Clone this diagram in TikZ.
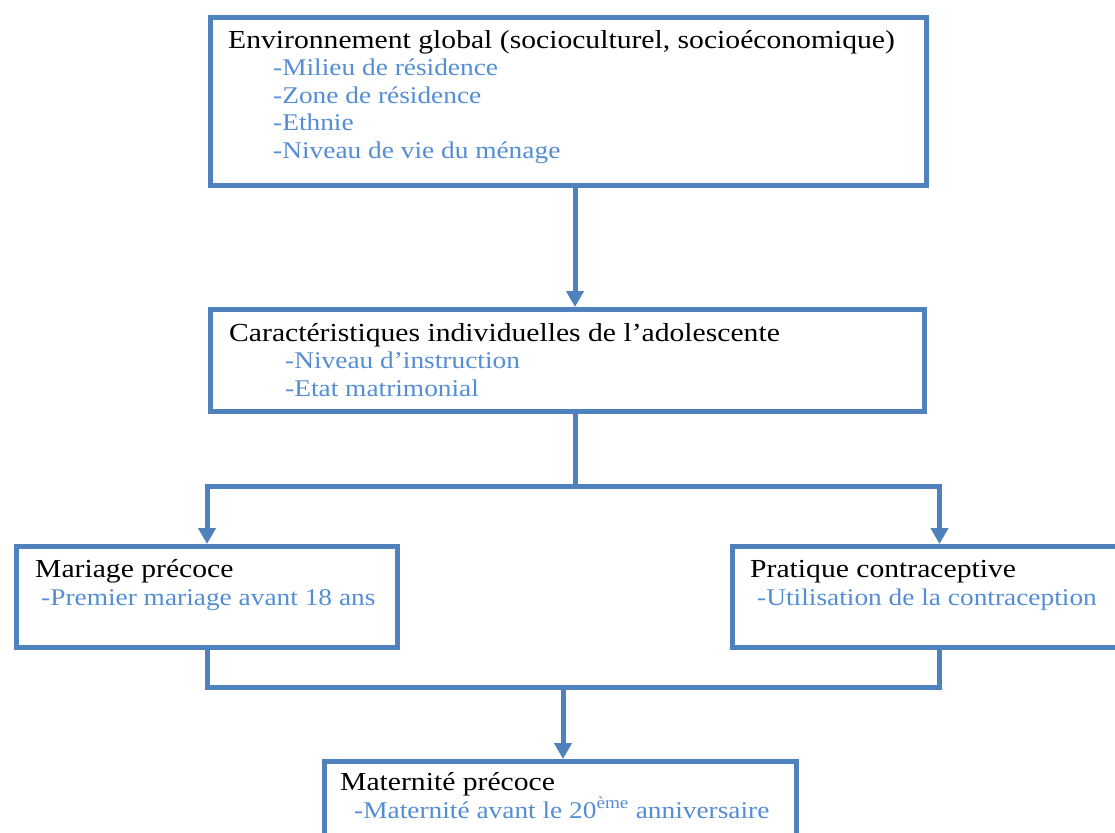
\documentclass[tikz,border=0pt]{standalone}
\usepackage{fontspec}
\setmainfont{Liberation Serif}[FakeStretch=1.14]
\usetikzlibrary{arrows.meta, positioning}
\definecolor{frame}{RGB}{79,129,189}
\definecolor{item}{RGB}{84,141,212}
\newcommand\itm[1]{\textcolor{item}{\fontsize{24}{27.5}\selectfont #1}}

\begin{document}
\begin{tikzpicture}[x=1pt, y=-1pt,
    box/.style={rectangle, draw=frame, line width=5pt, inner sep=0pt,
                anchor=north west},
    txt/.style={anchor=base west, align=left, inner sep=0pt,
                font=\fontsize{26}{27.5}\selectfont},
    link/.style={draw=frame, line width=5pt},
    ar/.style={link, -{Triangle[length=16pt, width=17pt]}}
]
\useasboundingbox (0,0) rectangle (1115,832);
\clip (0,0) rectangle (1115,832);

% boxes
\node[box, minimum width=716pt, minimum height=168pt] (env) at (208,15) {};
\node[box, minimum width=714pt, minimum height=102pt] (ind) at (208,307) {};
\node[box, minimum width=381pt, minimum height=101pt] (mar) at (14,544) {};
\node[box, minimum width=414pt, minimum height=101pt] (prat) at (730,544) {};
\node[box, minimum width=472pt, minimum height=110pt] (mat) at (322,759) {};

% texts (anchored on the baseline of their last line)
\node[txt] (envtxt) at (228,158) {Environnement global (socioculturel, socioéconomique)\\
    \hspace*{45pt}\itm{-Milieu de résidence}\\
    \hspace*{45pt}\itm{-Zone de résidence}\\
    \hspace*{45pt}\itm{-Ethnie}\\
    \hspace*{45pt}\itm{-Niveau de vie du ménage}};
\node[txt] (indtxt) at (229,396) {Caractéristiques individuelles de l’adolescente\\
    \hspace*{56pt}\itm{-Niveau d’instruction}\\
    \hspace*{56pt}\itm{-Etat matrimonial}};
\node[txt] (martxt) at (35,605) {Mariage précoce\\
    \hspace*{6pt}\itm{-Premier mariage avant 18 ans}};
\node[txt] (prattxt) at (750,605) {Pratique contraceptive\\
    \hspace*{7pt}\itm{-Utilisation de la contraception}};
\node[txt] (mattxt) at (340,818) {Maternité précoce\\
    \hspace*{14pt}\itm{-Maternité avant le 20\textsuperscript{ème} anniversaire}};

% connectors
\coordinate (split) at (575,486);
\coordinate (merge) at (563,687);
\draw[ar] (env.south -| split) -- (ind.north -| split);
\draw[link] (ind.south -| split) -- (split);
\draw[ar] (split) -| (mar.north);
\draw[ar] (split) -| (prat.north);
\draw[link, line join=miter] (mar.south) |- (merge) -| (prat.south);
\draw[ar] (merge) -- (merge |- mat.north);
\end{tikzpicture}
\end{document}
